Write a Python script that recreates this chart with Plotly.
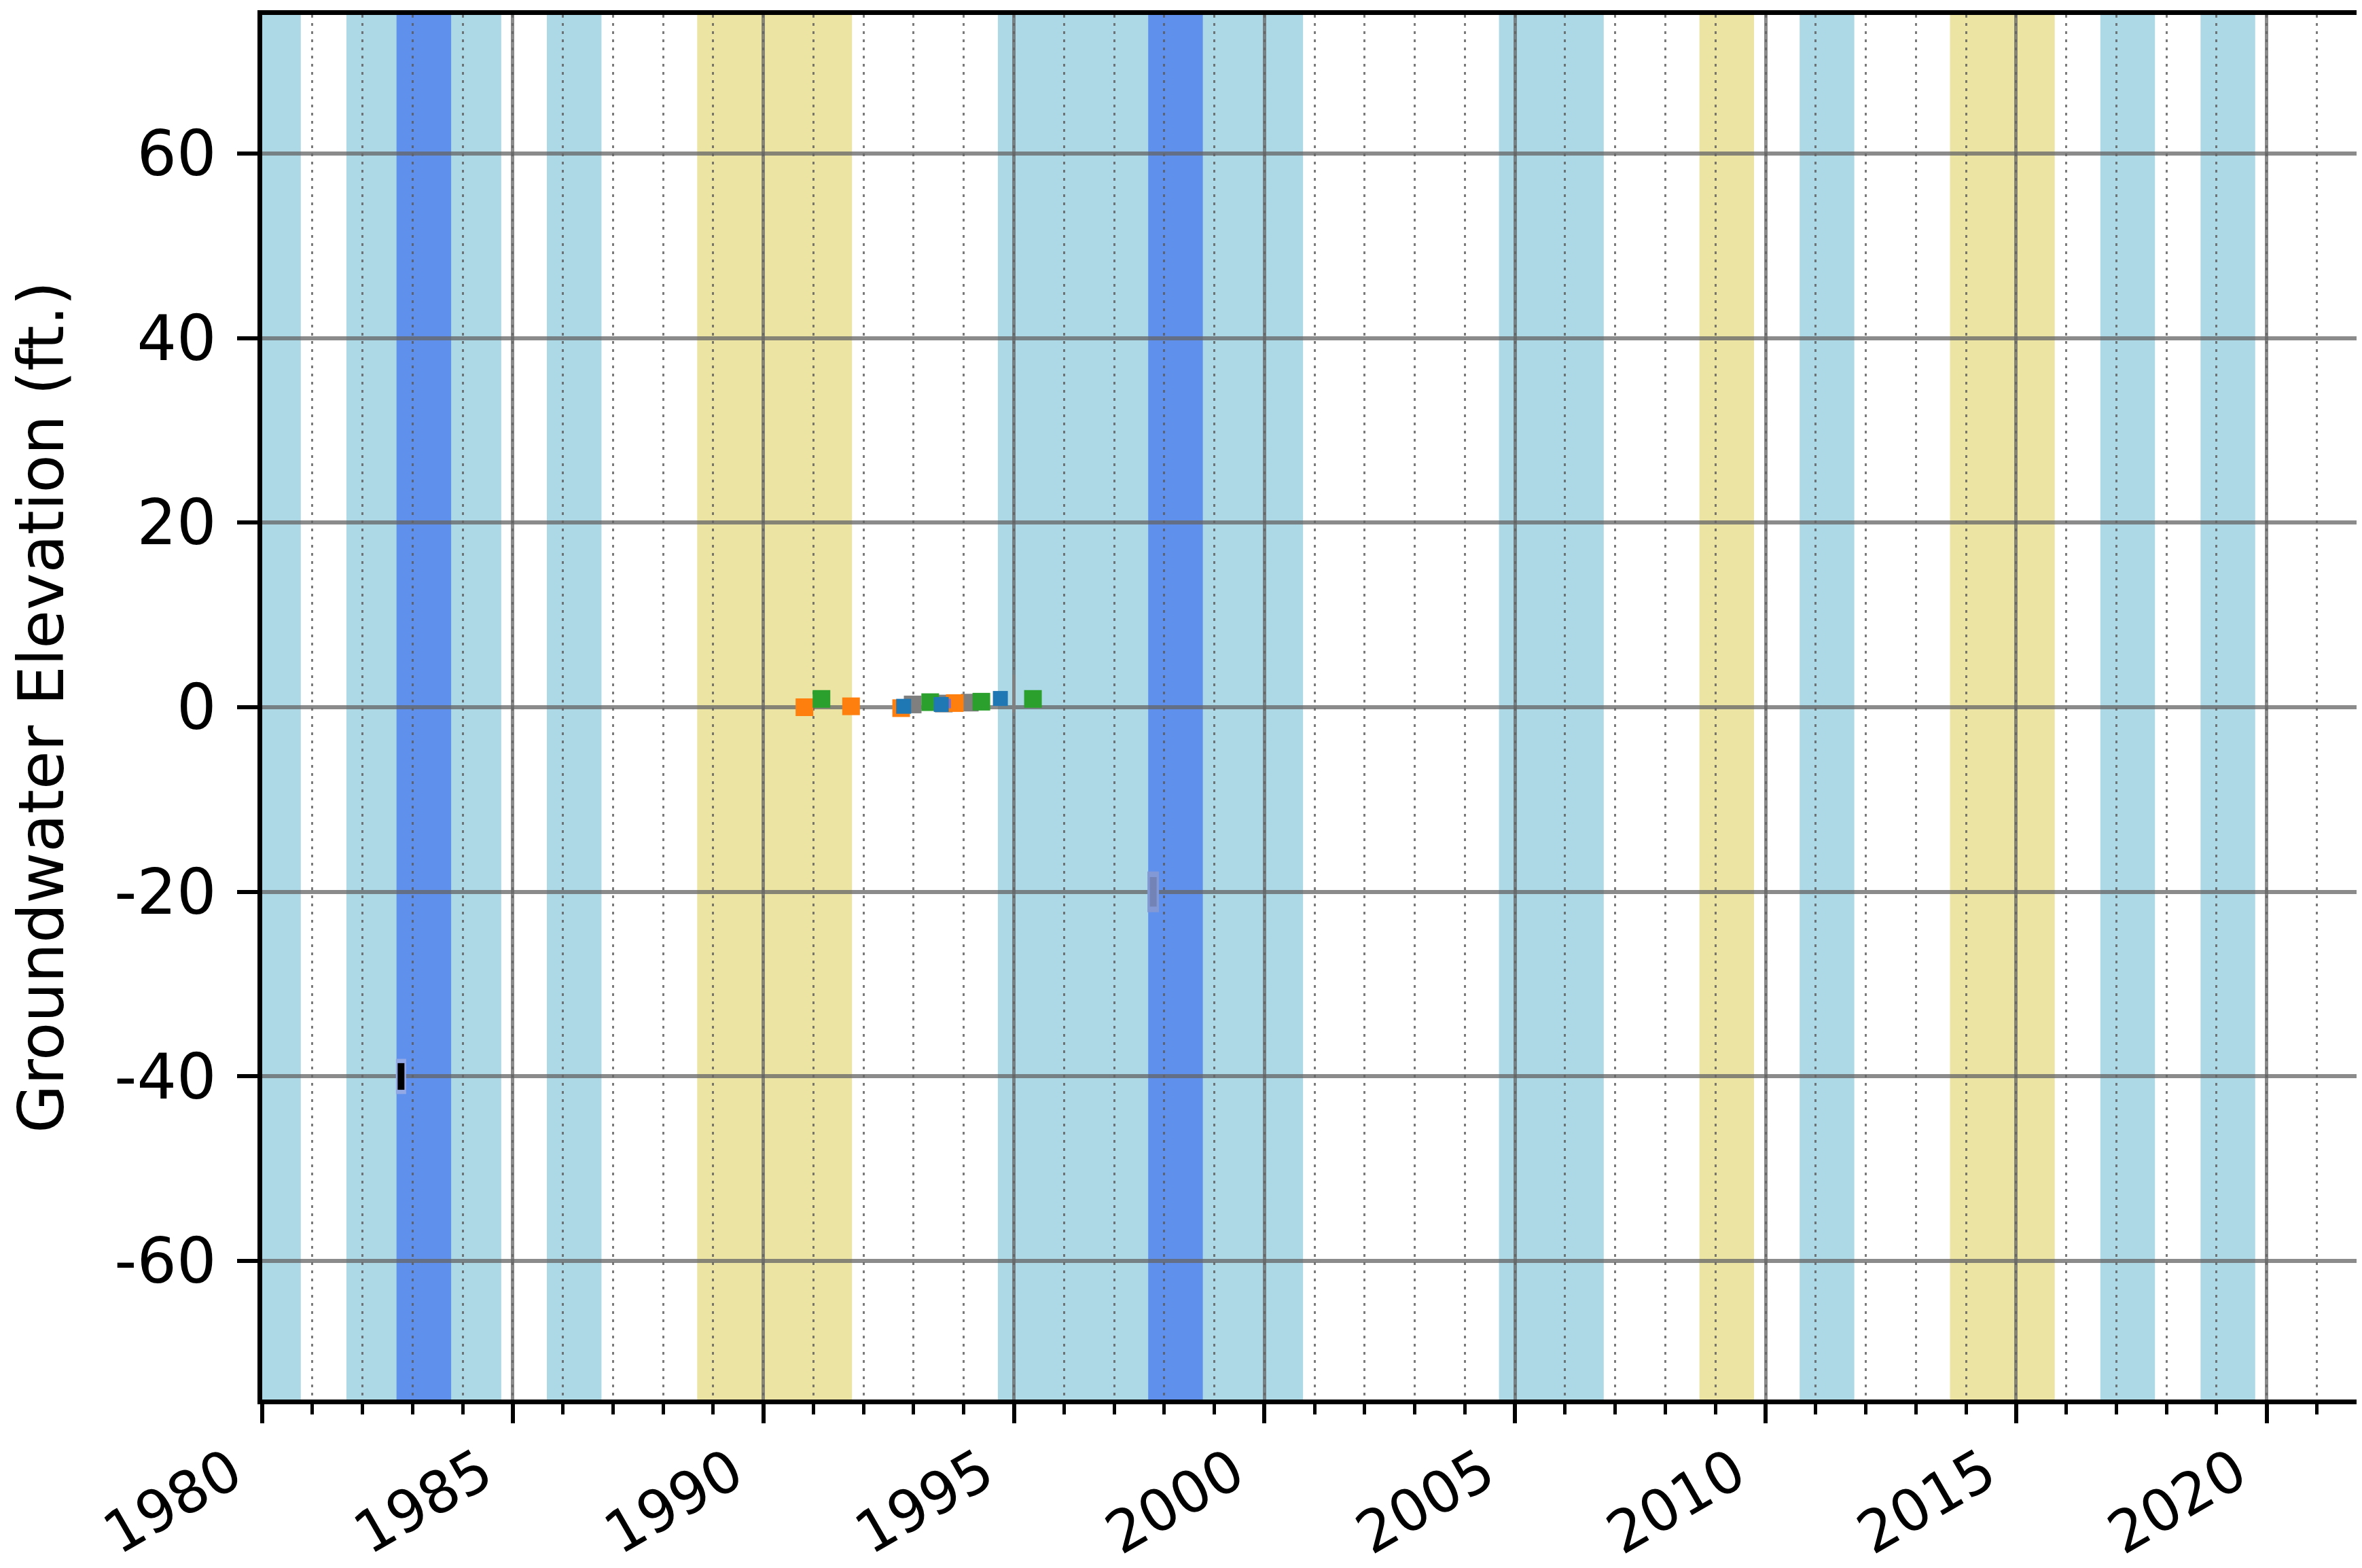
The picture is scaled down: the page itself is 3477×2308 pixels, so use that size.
import plotly.graph_objects as go

# ---------------- data ----------------
# water-year classification shading
wet_years = [1980, 1982, 1984, 1986, 1995, 1996, 1997, 1999, 2000, 2005, 2006, 2011, 2017, 2019]
very_wet_years = [1983, 1998]
dry_years = [1989, 1990, 1991, 2009, 2014, 2015]

# groundwater elevation observations (ft.)
orange_x = [1990.82, 1991.75, 1992.75, 1993.82]
orange_y = [0.0, 0.1, -0.1, 0.45]
green_x = [1991.16, 1993.33, 1994.35, 1995.38]
green_y = [0.9, 0.55, 0.6, 0.9]
blue_x = [1992.80, 1993.55, 1994.73]
blue_y = [0.1, 0.3, 0.95]
purple_x = [1992.82, 1993.65]
purple_y = [0.1, 0.4]
gray_x = [1992.98, 1993.60, 1994.12]
gray_y = [0.3, 0.4, 0.5]
gray_bar_x = [1995.0]
gray_bar_y = [1.5]
black_x = [1982.77]
black_y = [-40.0]
slate_x = [1997.78]
slate_y = [-20.0]

x_ticks = [1980, 1985, 1990, 1995, 2000, 2005, 2010, 2015, 2020]
x_labels = [str(v) for v in x_ticks]
y_ticks = [-60, -40, -20, 0, 20, 40, 60]
y_labels = [str(v) for v in y_ticks]
y_title = "Groundwater Elevation (ft.)"

# ---------------- styling ----------------
FONT = "DejaVu Sans"
FS = 92
FS_X = 85
C_WET = "#ADD8E6"
C_VWET = "#5E90EC"
C_DRY = "#ECE4A2"
GRID = "rgba(100,100,100,0.75)"

fig = go.Figure()


def runs(years):
    ys = sorted(years)
    out = []
    start = prev = ys[0]
    for y in ys[1:]:
        if y == prev + 1:
            prev = y
        else:
            out.append((start, prev))
            start = prev = y
    out.append((start, prev))
    return out


shapes = []
for years, col in [(wet_years, C_WET), (dry_years, C_DRY), (very_wet_years, C_VWET)]:
    for a, b in runs(years):
        shapes.append(dict(type="rect", xref="x", yref="paper",
                           x0=max(a - 1 + 0.68, 1980), x1=b + 0.77, y0=0, y1=1,
                           fillcolor=col, line=dict(width=0), layer="below"))


def sq(x, y, col, size=26):
    fig.add_trace(go.Scatter(x=x, y=y, mode="markers", showlegend=False,
                             marker=dict(symbol="square", size=size, color=col,
                                         line=dict(width=0))))


sq(gray_x, gray_y, "#7f7f7f")
sq(orange_x, orange_y, "#ff7f0e")
sq(purple_x, purple_y, "#8c6bb8", size=14)
sq(green_x, green_y, "#2ca02c")
sq(blue_x, blue_y, "#1f77b4", size=22)


def bar(x, y, col, size, width):
    fig.add_trace(go.Scatter(x=x, y=y, mode="markers", showlegend=False,
                             marker=dict(symbol="line-ns", size=size,
                                         line=dict(width=width, color=col))))


bar(gray_bar_x, gray_bar_y, "#808080", 40, 5)
bar(black_x, black_y, "#93A9E6", 37, 15)
bar(black_x, black_y, "#000000", 28, 10)
bar(slate_x, slate_y, "#8299D6", 43, 17)
bar(slate_x, slate_y, "#7383B6", 31, 10)

fig.update_layout(
    width=3477, height=2308,
    margin=dict(l=378, r=0, t=14, b=256, pad=0),
    paper_bgcolor="white", plot_bgcolor="white",
    font=dict(family=FONT, size=FS, color="black"),
    shapes=shapes,
    showlegend=False,
)

fig.update_xaxes(
    range=[1980, 2022.01],
    tickmode="array", tickvals=x_ticks, ticktext=x_labels, tickangle=-30,
    tickfont=dict(family=FONT, size=FS_X, color="black"),
    ticklabelshift=-45, ticklabelstandoff=-10,
    automargin=False,
    showline=True, linewidth=7, linecolor="black", mirror=True,
    ticks="outside", ticklen=28, tickwidth=6, tickcolor="black",
    showgrid=True, gridcolor=GRID, gridwidth=5, zeroline=False,
    minor=dict(dtick=1, tick0=1980, ticks="outside", ticklen=15, tickwidth=5,
               tickcolor="black", showgrid=True, gridcolor="rgba(90,90,90,0.8)",
               gridwidth=3, griddash="4px,8px"),
)

fig.update_yaxes(
    range=[-75, 75],
    tickmode="array", tickvals=y_ticks, ticktext=y_labels,
    tickfont=dict(family=FONT, size=FS, color="black"),
    showline=True, linewidth=7, linecolor="black", mirror=False,
    ticks="outside", ticklen=30, tickwidth=6, tickcolor="black",
    ticklabelstandoff=12,
    showgrid=True, gridcolor=GRID, gridwidth=6, zeroline=False,
    title=dict(text=y_title, font=dict(family=FONT, size=FS, color="black"), standoff=50),
)

fig.write_html("out.html")
